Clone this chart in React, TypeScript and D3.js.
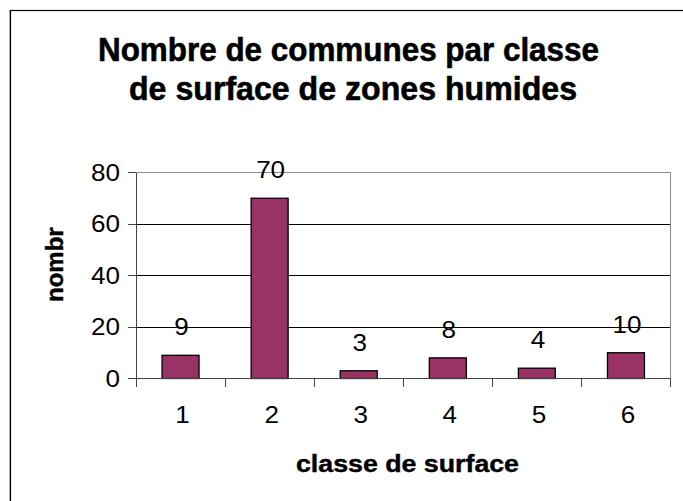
import React from "react";
import * as d3 from "d3";

const categories = ["1", "2", "3", "4", "5", "6"];
const values = [9, 70, 3, 8, 4, 10];
const yTicks = [0, 20, 40, 60, 80];
const titleLines = ["Nombre de communes par classe", "de surface de zones humides"];
const xAxisTitle = "classe de surface";
const yAxisTitle = "nombre";

const W = 683;
const H = 501;
const FONT = "'Liberation Sans', Arial, Helvetica, sans-serif";

export default function App() {
  const left = 136;
  const right = 670.5;
  const top = 172.5;
  const bottom = 378.5;

  const x = d3.scaleBand<string>().domain(categories).range([left, right]).padding(0);
  const y = d3.scaleLinear().domain([0, 80]).range([bottom, top]);
  const bw = x.bandwidth();
  const barW = bw * 0.415;
  const digitW = 14.5;

  const boundaries = [...categories.map((c) => x(c) as number), right];

  return (
    <svg
      width={W}
      height={H}
      style={{ position: "absolute", left: 0, top: 0, background: "#fff" }}
      fontFamily={FONT}
    >
      <defs>
        <clipPath id="ylabclip">
          <rect x={0} y={227} width={120} height={200} />
        </clipPath>
      </defs>
      <rect x={0} y={0} width={W} height={H} fill="#fff" />
      {/* outer frame */}
      <line x1={9.5} y1={10} x2={9.5} y2={H} stroke="#bbb" strokeWidth={1} />
      <rect x={10.5} y={10.5} width={1000} height={1000} fill="none" stroke="#000" strokeWidth={1.2} />

      {/* title */}
      <text x={98} y={60.5} fontSize={34} fontWeight="bold" textLength={501} lengthAdjust="spacingAndGlyphs" stroke="#000" strokeWidth={0.6}>
        {titleLines[0]}
      </text>
      <text x={129} y={100} fontSize={34} fontWeight="bold" textLength={448} lengthAdjust="spacingAndGlyphs" stroke="#000" strokeWidth={0.6}>
        {titleLines[1]}
      </text>

      {/* gridlines */}
      {yTicks
        .filter((t) => t > 0 && t < 80)
        .map((t) => (
          <line key={"g" + t} x1={left} x2={right} y1={y(t)} y2={y(t)} stroke="#000" strokeWidth={1} shapeRendering="crispEdges" />
        ))}
      {/* plot border top/right */}
      <line x1={left} x2={right} y1={y(80)} y2={y(80)} stroke="#8c8c8c" strokeWidth={1.5} shapeRendering="crispEdges" />
      <line x1={right} x2={right} y1={top} y2={bottom} stroke="#8c8c8c" strokeWidth={1.5} shapeRendering="crispEdges" />

      {/* bars */}
      {categories.map((c, i) => (
        <rect
          key={"b" + c}
          x={(x(c) as number) + (bw - barW) / 2}
          y={y(values[i])}
          width={barW}
          height={y(0) - y(values[i])}
          fill="#993366"
          stroke="#000"
          strokeWidth={1.3}
        />
      ))}

      {/* axes */}
      <line x1={left} x2={left} y1={top} y2={bottom + 8} stroke="#444" strokeWidth={1} shapeRendering="crispEdges" />
      <line x1={left} x2={right} y1={bottom} y2={bottom} stroke="#444" strokeWidth={1} shapeRendering="crispEdges" />
      {yTicks.map((t) => (
        <line key={"yt" + t} x1={left - 8} x2={left} y1={y(t)} y2={y(t)} stroke="#444" strokeWidth={1} shapeRendering="crispEdges" />
      ))}
      {boundaries.map((b, i) => (
        <line key={"xt" + i} x1={b} x2={b} y1={bottom} y2={bottom + 8} stroke="#444" strokeWidth={1} shapeRendering="crispEdges" />
      ))}

      {/* y tick labels */}
      {yTicks.map((t) => (
        <text
          key={"yl" + t}
          x={120}
          y={y(t)}
          dy="0.36em"
          fontSize={23}
          textAnchor="end"
          textLength={String(t).length * digitW}
          lengthAdjust="spacingAndGlyphs"
        >
          {t}
        </text>
      ))}

      {/* x tick labels */}
      {categories.map((c) => (
        <text
          key={"xl" + c}
          x={(x(c) as number) + bw / 2 + 2}
          y={423}
          fontSize={23}
          textAnchor="middle"
          textLength={c.length * digitW}
          lengthAdjust="spacingAndGlyphs"
        >
          {c}
        </text>
      ))}

      {/* data labels */}
      {categories.map((c, i) => (
        <text
          key={"dl" + c}
          x={(x(c) as number) + bw / 2 + 1}
          y={y(values[i]) - 20}
          fontSize={23}
          textAnchor="middle"
          textLength={String(values[i]).length * digitW}
          lengthAdjust="spacingAndGlyphs"
        >
          {values[i]}
        </text>
      ))}

      {/* axis titles */}
      <text x={296} y={471.5} fontSize={23} fontWeight="bold" textLength={223} lengthAdjust="spacingAndGlyphs" stroke="#000" strokeWidth={0.4}>
        {xAxisTitle}
      </text>
      <g clipPath="url(#ylabclip)">
        <text
          transform="translate(63,302) rotate(-90)"
          fontSize={23}
          fontWeight="bold"
          textLength={88}
          lengthAdjust="spacingAndGlyphs"
          stroke="#000"
          strokeWidth={0.4}
        >
          {yAxisTitle}
        </text>
      </g>
    </svg>
  );
}
